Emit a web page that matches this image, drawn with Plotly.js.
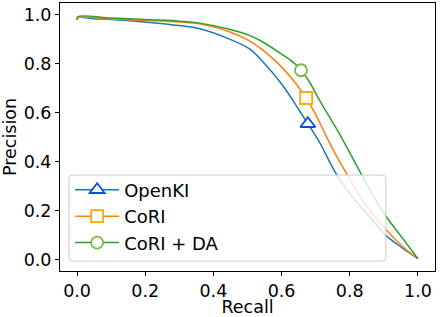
<!DOCTYPE html>
<html>
<head>
<meta charset="utf-8">
<script src="https://cdn.plot.ly/plotly-3.0.1.min.js"></script>
<style>html,body{margin:0;padding:0;background:#fff;}#chart{width:440px;height:317px;}</style>
</head>
<body>
<div id="chart"></div>
<script>
// OpenKI
const openkiRecall    = [0.000, 0.003, 0.050, 0.100, 0.213, 0.300, 0.360, 0.447, 0.506, 0.545, 0.603, 0.640, 0.677, 0.711, 0.759, 0.812, 0.866, 0.906, 0.954, 1.000];
const openkiPrecision = [0.978, 0.988, 0.983, 0.980, 0.968, 0.955, 0.942, 0.900, 0.860, 0.808, 0.712, 0.635, 0.555, 0.480, 0.354, 0.250, 0.164, 0.100, 0.049, 0.005];
// CoRI
const coriRecall    = [0.000, 0.003, 0.100, 0.213, 0.300, 0.360, 0.447, 0.506, 0.545, 0.594, 0.642, 0.672, 0.701, 0.711, 0.749, 0.789, 0.837, 0.906, 0.954, 1.000];
const coriPrecision = [0.978, 0.988, 0.982, 0.976, 0.970, 0.962, 0.930, 0.893, 0.855, 0.795, 0.719, 0.660, 0.590, 0.562, 0.455, 0.356, 0.245, 0.124, 0.056, 0.005];
// CoRI + DA
const coridaRecall    = [0.000, 0.003, 0.100, 0.213, 0.300, 0.360, 0.447, 0.506, 0.545, 0.603, 0.630, 0.657, 0.684, 0.711, 0.769, 0.832, 0.876, 0.906, 0.954, 1.000];
const coridaPrecision = [0.980, 0.992, 0.986, 0.979, 0.973, 0.965, 0.940, 0.915, 0.888, 0.836, 0.810, 0.775, 0.720, 0.651, 0.516, 0.354, 0.245, 0.178, 0.090, 0.005];
// highlighted operating points
const seriesNames     = ['OpenKI', 'CoRI', 'CoRI + DA'];
const markerRecall    = [0.677, 0.672, 0.657];
const markerPrecision = [0.555, 0.660, 0.773];
const xTicks = [0.0, 0.2, 0.4, 0.6, 0.8, 1.0];
const yTicks = [0.0, 0.2, 0.4, 0.6, 0.8, 1.0];

const lineColors   = ['#1f77b4', '#ff7f0e', '#2ca02c'];
const markerColors = ['#0a4fdc', '#ffaa00', '#77bb41'];
const symbols      = ['triangle-up', 'square', 'circle'];
const markerSizes  = [13, 12, 12];
const curves = [[openkiRecall, openkiPrecision], [coriRecall, coriPrecision], [coridaRecall, coridaPrecision]];

const FONT = 'DejaVu Sans, sans-serif';
const traces = [];
curves.forEach((c, i) => {
  traces.push({
    x: c[0], y: c[1], type: 'scatter', mode: 'lines',
    line: {color: lineColors[i], width: 1.5, shape: 'spline', smoothing: 0.9},
    showlegend: false, hoverinfo: 'skip'
  });
});
curves.forEach((c, i) => {
  traces.push({
    x: [markerRecall[i]], y: [markerPrecision[i]], type: 'scatter', mode: 'lines+markers',
    name: seriesNames[i],
    line: {color: lineColors[i], width: 1.5},
    marker: {symbol: symbols[i], size: markerSizes[i], color: 'white',
             line: {color: markerColors[i], width: 1.8}},
    showlegend: true
  });
});

// legend frame (semi-transparent, rounded) in paper coordinates
const bx0 = 0.024, bx1 = 0.869, by0 = 0.037, by1 = 0.358, rx = 0.009, ry = 0.012;
const framePath = `M${bx0 + rx},${by0} L${bx1 - rx},${by0} Q${bx1},${by0} ${bx1},${by0 + ry} ` +
  `L${bx1},${by1 - ry} Q${bx1},${by1} ${bx1 - rx},${by1} L${bx0 + rx},${by1} Q${bx0},${by1} ${bx0},${by1 - ry} ` +
  `L${bx0},${by0 + ry} Q${bx0},${by0} ${bx0 + rx},${by0} Z`;

const layout = {
  width: 440, height: 317,
  margin: {l: 60, r: 5, t: 3, b: 46, pad: 0},
  paper_bgcolor: 'white', plot_bgcolor: 'white',
  font: {family: FONT, size: 17.5, color: '#000'},
  showlegend: true,
  xaxis: {
    range: [-0.05, 1.05], tickvals: xTicks, ticktext: xTicks.map(v => v.toFixed(1)),
    showgrid: false, zeroline: false, showline: true, mirror: true,
    linecolor: '#000', linewidth: 1, ticks: 'outside', ticklen: 4, tickcolor: '#000', tickwidth: 1,
    tickfont: {family: FONT, size: 17.5, color: '#000'},
    title: {text: 'Recall', font: {family: FONT, size: 17.5, color: '#000'}}
  },
  yaxis: {
    range: [-0.045, 1.047], tickvals: yTicks, ticktext: yTicks.map(v => v.toFixed(1)),
    showgrid: false, zeroline: false, showline: true, mirror: true,
    linecolor: '#000', linewidth: 1, ticks: 'outside', ticklen: 4, tickcolor: '#000', tickwidth: 1,
    tickfont: {family: FONT, size: 17.5, color: '#000'},
    title: {text: 'Precision', font: {family: FONT, size: 17.5, color: '#000'}}
  },
  shapes: [{
    type: 'path', xref: 'paper', yref: 'paper', path: framePath, layer: 'above',
    fillcolor: 'rgba(255,255,255,0.8)', line: {color: '#cccccc', width: 1}
  }],
  legend: {
    x: 0.027, y: 0.371, xanchor: 'left', yanchor: 'top',
    bgcolor: 'rgba(0,0,0,0)', borderwidth: 0,
    font: {family: FONT, size: 18, color: '#000'},
    itemwidth: 44
  }
};

Plotly.newPlot('chart', traces, layout, {staticPlot: true, displayModeBar: false});
</script>
</body>
</html>
